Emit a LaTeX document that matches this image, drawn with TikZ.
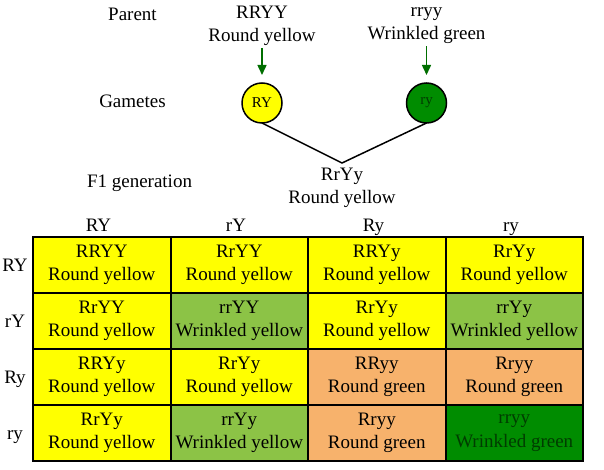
\documentclass[tikz,border=0pt]{standalone}
\usepackage{fontspec}
\setmainfont{Liberation Serif}
\usetikzlibrary{arrows.meta}
\definecolor{ylw}{RGB}{255,255,0}
\definecolor{lgreen}{RGB}{140,195,70}
\definecolor{orng}{RGB}{247,178,108}
\definecolor{dgreen}{RGB}{0,140,0}
\definecolor{agreen}{RGB}{0,110,0}
\definecolor{tgreen}{RGB}{0,60,0}

\begin{document}
\begin{tikzpicture}[x=1pt,y=-1pt,
    every node/.style={font=\fontsize{19}{23.5}\selectfont, inner sep=0pt, outer sep=0pt},
    txt/.style={align=center},
    gamete/.style={circle, draw, line width=1.5pt, minimum size=40pt, font=\fontsize{15}{18}\selectfont},
    cell/.style={rectangle, draw, line width=2pt, minimum width=137.5pt, minimum height=56pt, align=center},
    garrow/.style={agreen, line width=1.5pt, -{Triangle[width=9pt,length=10pt]}, shorten <=2pt, shorten >=8pt}]
        \useasboundingbox (0,0) rectangle (604,470);

        % parents and gametes
        \node [anchor=base] (lp) at (132.5,21) {Parent};
        \node [txt] (p1) at (262,25.8) {RRYY\\Round yellow};
        \node [txt] (p2) at (426.5,25.8) {rryy\\Wrinkled green};
        \node [anchor=base] (lg) at (132.5,108) {Gametes};
        \node [gamete, fill=ylw] (g1) at (262,103) {RY};
        \node [gamete, fill=dgreen, text=tgreen] (g2) at (426.5,103) {ry};
        \coordinate (join) at (342,163);
        \node [anchor=base] (lf) at (139.5,188) {F1 generation};
        \node [txt] (f1) at (342,188) {RrYy\\Round yellow};

        \draw[garrow] (p1) -- (g1);
        \draw[garrow] (p2) -- (g2);
        \draw[line width=1.5pt] (g1.south) -- (join) -- (g2.south);

        % headers
        \node [anchor=base] (h1) at (98.5,231) {RY};
        \node [anchor=base] (h2) at (236,231) {rY};
        \node [anchor=base] (h3) at (373.5,231) {Ry};
        \node [anchor=base] (h4) at (511,231) {ry};
        \node [anchor=base] (v1) at (15,271) {RY};
        \node [anchor=base] (v2) at (15,327) {rY};
        \node [anchor=base] (v3) at (15,383) {Ry};
        \node [anchor=base] (v4) at (15,439) {ry};

        % punnett square
        \node [cell, fill=ylw] (c11) at (101.75,265) {RRYY\\Round yellow};
        \node [cell, fill=ylw] (c12) at (239.25,265) {RrYY\\Round yellow};
        \node [cell, fill=ylw] (c13) at (376.75,265) {RRYy\\Round yellow};
        \node [cell, fill=ylw] (c14) at (514.25,265) {RrYy\\Round yellow};
        \node [cell, fill=ylw] (c21) at (101.75,321) {RrYY\\Round yellow};
        \node [cell, fill=lgreen] (c22) at (239.25,321) {rrYY\\Wrinkled yellow};
        \node [cell, fill=ylw] (c23) at (376.75,321) {RrYy\\Round yellow};
        \node [cell, fill=lgreen] (c24) at (514.25,321) {rrYy\\Wrinkled yellow};
        \node [cell, fill=ylw] (c31) at (101.75,377) {RRYy\\Round yellow};
        \node [cell, fill=ylw] (c32) at (239.25,377) {RrYy\\Round yellow};
        \node [cell, fill=orng] (c33) at (376.75,377) {RRyy\\Round green};
        \node [cell, fill=orng] (c34) at (514.25,377) {Rryy\\Round green};
        \node [cell, fill=ylw] (c41) at (101.75,433) {RrYy\\Round yellow};
        \node [cell, fill=lgreen] (c42) at (239.25,433) {rrYy\\Wrinkled yellow};
        \node [cell, fill=orng] (c43) at (376.75,433) {Rryy\\Round green};
        \node [cell, fill=dgreen, text=tgreen] (c44) at (514.25,433) {rryy\\Wrinkled green};
      \end{tikzpicture}
\end{document}
